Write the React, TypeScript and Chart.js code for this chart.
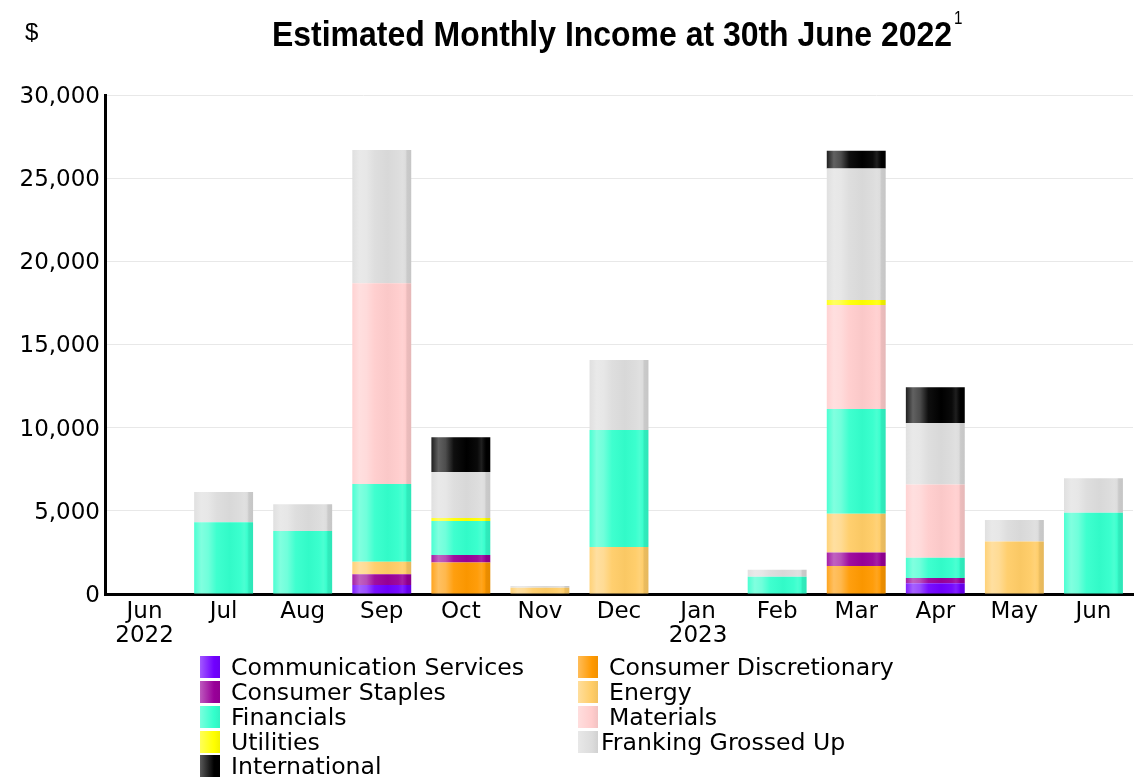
import React, { useEffect, useRef } from "react";
import { Chart, registerables } from "chart.js";

Chart.register(...registerables);

const categories: (string | string[])[] = [
  ["Jun", "2022"], "Jul", "Aug", "Sep", "Oct", "Nov", "Dec",
  ["Jan", "2023"], "Feb", "Mar", "Apr", "May", "Jun",
];

const commServices = [0, 0, 0, 540, 0, 0, 0, 0, 0, 0, 640, 0, 0];
const consumerDiscretionary = [0, 0, 0, 0, 1900, 0, 0, 0, 0, 1690, 0, 0, 0];
const consumerStaples = [0, 0, 0, 640, 440, 0, 0, 0, 0, 800, 320, 0, 0];
const energy = [0, 0, 0, 760, 0, 380, 2830, 0, 0, 2340, 0, 3150, 0];
const financials = [0, 4310, 3790, 4670, 2050, 0, 7030, 0, 1040, 6290, 1220, 0, 4890];
const materials = [0, 0, 0, 12070, 0, 0, 0, 0, 0, 6260, 4410, 0, 0];
const utilities = [0, 0, 0, 0, 180, 0, 0, 0, 0, 300, 0, 0, 0];
const frankingGrossedUp = [0, 1820, 1600, 8020, 2770, 100, 4210, 0, 420, 7900, 3690, 1300, 2070];
const international = [0, 0, 0, 0, 2090, 0, 0, 0, 0, 1065, 2150, 0, 0];

const yTicks = [0, 5000, 10000, 15000, 20000, 25000, 30000];

const series = [
  { label: "Communication Services", data: commServices, color: [112, 0, 255] },
  { label: "Consumer Discretionary", data: consumerDiscretionary, color: [255, 153, 0] },
  { label: "Consumer Staples", data: consumerStaples, color: [153, 0, 153] },
  { label: "Energy", data: energy, color: [255, 204, 102] },
  { label: "Financials", data: financials, color: [51, 255, 204] },
  { label: "Materials", data: materials, color: [255, 204, 204] },
  { label: "Utilities", data: utilities, color: [255, 255, 0] },
  { label: "Franking Grossed Up", data: frankingGrossedUp, color: [220, 220, 220] },
  { label: "International", data: international, color: [0, 0, 0] },
];

const BAR_PCT = 0.745;

function mix(c: number[], t: number[], f: number) {
  const r = c.map((v, i) => Math.round(v + (t[i] - v) * f));
  return `rgb(${r[0]},${r[1]},${r[2]})`;
}
const light = (c: number[], f: number) => mix(c, [255, 255, 255], f);
const dark = (c: number[], f: number) => mix(c, [0, 0, 0], f);

const legendLayout = [
  { i: 0, bx: 200, tx: 231, y: 667 },
  { i: 1, bx: 578, tx: 609, y: 667 },
  { i: 2, bx: 200, tx: 231, y: 692 },
  { i: 3, bx: 578, tx: 609, y: 692 },
  { i: 4, bx: 200, tx: 231, y: 717 },
  { i: 5, bx: 578, tx: 609, y: 717 },
  { i: 6, bx: 200, tx: 231, y: 742 },
  { i: 7, bx: 578, tx: 601, y: 742 },
  { i: 8, bx: 200, tx: 231, y: 766 },
];

export default function App() {
  const ref = useRef<HTMLCanvasElement>(null);

  useEffect(() => {
    const canvas = ref.current;
    if (!canvas) return;

    const headerPlugin = {
      id: "header",
      afterDraw(chart: any) {
        const ctx = chart.ctx;
        ctx.save();
        ctx.fillStyle = "#000";
        ctx.textBaseline = "alphabetic";
        const title = "Estimated Monthly Income at 30th June 2022";
        ctx.font = 'bold 35px "Liberation Sans", Arial, sans-serif';
        const tw = ctx.measureText(title).width;
        const sx = 680 / tw;
        ctx.save();
        ctx.translate(272, 46);
        ctx.scale(sx, 1);
        ctx.textAlign = "left";
        ctx.fillText(title, 0, 0);
        ctx.restore();
        ctx.textAlign = "left";
        ctx.save();
        ctx.translate(954, 24);
        ctx.scale(0.8, 1);
        ctx.font = '19px "Liberation Sans", Arial, sans-serif';
        ctx.fillText("1", 0, 0);
        ctx.restore();
        ctx.font = '24px "Liberation Sans", Arial, sans-serif';
        ctx.fillText("$", 25, 40);
        ctx.restore();
      },
    };

    const chart = new Chart(canvas, {
      type: "bar",
      data: {
        labels: categories,
        datasets: series.map((s) => ({
          label: s.label,
          data: s.data,
          borderWidth: 0,
          barPercentage: BAR_PCT,
          categoryPercentage: 1,
          backgroundColor: (ctx: any) => {
            const base = s.color;
            const ch = ctx.chart;
            const xs = ch.scales && ch.scales.x;
            if (ctx.type !== "data" || !ch.chartArea || !xs) return light(base, 0);
            const cx = xs.getPixelForValue(ctx.dataIndex);
            const w = (xs.width / categories.length) * BAR_PCT;
            const g = ch.ctx.createLinearGradient(cx - w / 2, 0, cx + w / 2, 0);
            g.addColorStop(0, light(base, 0.12));
            g.addColorStop(0.12, light(base, 0.38));
            g.addColorStop(0.24, light(base, 0.3));
            g.addColorStop(0.38, light(base, 0.06));
            g.addColorStop(0.6, dark(base, 0.02));
            g.addColorStop(0.78, light(base, 0.04));
            g.addColorStop(0.85, light(base, 0.12));
            g.addColorStop(0.9, light(base, 0.04));
            g.addColorStop(0.93, dark(base, 0.08));
            g.addColorStop(1, dark(base, 0.1));
            return g;
          },
        })),
      },
      options: {
        responsive: false,
        animation: false,
        devicePixelRatio: 1,
        layout: { padding: { left: 0, top: 95, right: 2, bottom: 0 } },
        plugins: {
          legend: { display: false },
          title: { display: false },
          tooltip: { enabled: false },
        },
        scales: {
          x: {
            stacked: true,
            grid: { display: false, drawTicks: false },
            border: { display: true, color: "#000", width: 3 },
            ticks: {
              color: "#000",
              font: { family: '"DejaVu Sans"', size: 23, lineHeight: 1.05 },
              padding: 6,
              maxRotation: 0,
              autoSkip: false,
            },
            afterFit(scale: any) {
              scale.height = 777 - 594;
            },
          },
          y: {
            stacked: true,
            min: 0,
            max: 30000,
            afterBuildTicks(scale: any) {
              scale.ticks = yTicks.map((v) => ({ value: v }));
            },
            grid: { color: "#e8e8e8", lineWidth: 1, drawTicks: false },
            border: { display: true, color: "#000", width: 3 },
            ticks: {
              color: "#000",
              font: { family: '"DejaVu Sans"', size: 23 },
              padding: 5,
              labelOffset: 2,
              callback: (v: any) => Number(v).toLocaleString("en-US"),
            },
            afterFit(scale: any) {
              scale.width = 105;
            },
          },
        },
      },
      plugins: [headerPlugin],
    } as any);

    return () => chart.destroy();
  }, []);

  return (
    <div
      style={{
        position: "absolute",
        left: 0,
        top: 0,
        width: 1135,
        height: 777,
        background: "#fff",
        overflow: "hidden",
      }}
    >
      <canvas ref={ref} width={1135} height={777} style={{ position: "absolute", left: 0, top: 0 }} />
      {legendLayout.map((l) => {
        const s = series[l.i];
        return (
          <React.Fragment key={s.label}>
            <div
              style={{
                position: "absolute",
                left: l.bx,
                top: l.y - 11,
                width: 20,
                height: 22,
                background: `linear-gradient(to right, ${light(s.color, 0.35)}, ${light(s.color, 0)} 70%, ${dark(s.color, 0.05)})`,
              }}
            />
            <div
              style={{
                position: "absolute",
                left: l.tx,
                top: l.y - 14,
                height: 28,
                lineHeight: "28px",
                fontFamily: '"DejaVu Sans"',
                fontSize: 23.6,
                color: "#000",
                whiteSpace: "nowrap",
              }}
            >
              {s.label}
            </div>
          </React.Fragment>
        );
      })}
    </div>
  );
}
